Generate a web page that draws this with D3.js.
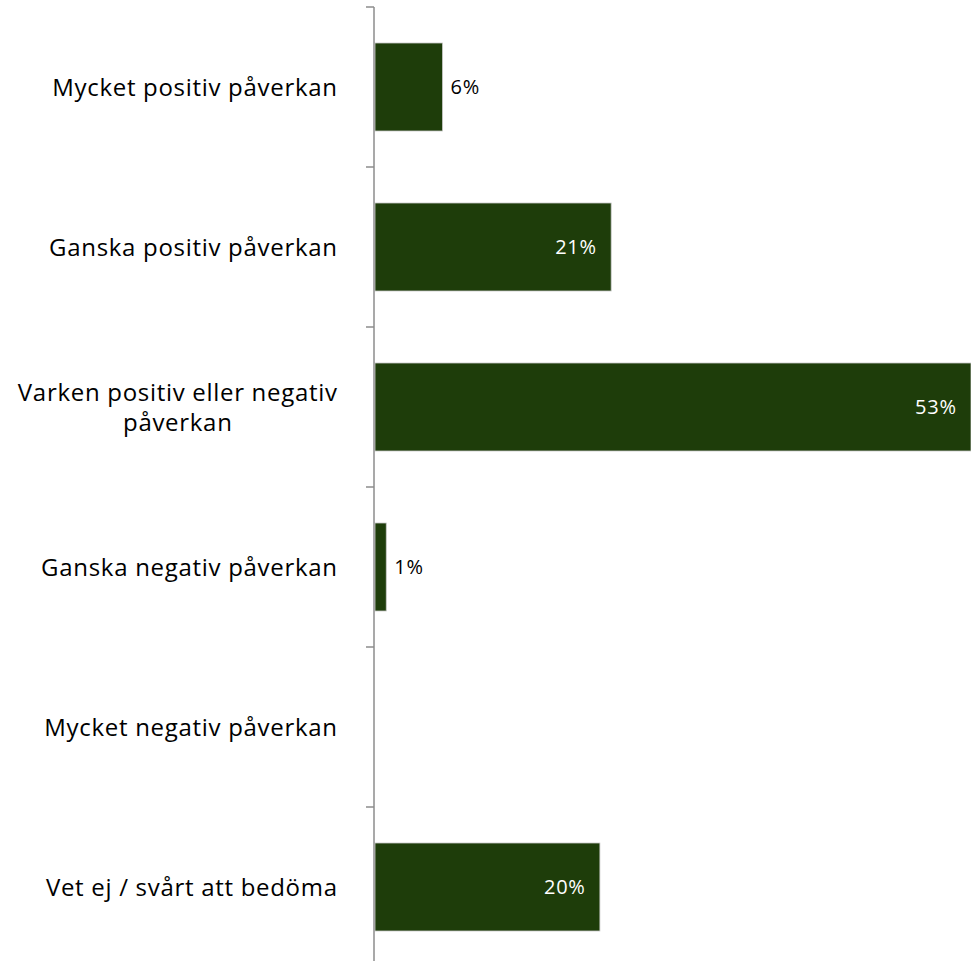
<!DOCTYPE html>
<html>
<head>
<meta charset="utf-8">
<script src="https://cdn.jsdelivr.net/npm/d3@7"></script>
<style>
  html, body { margin: 0; padding: 0; background: #fff; }
  svg { display: block; }
</style>
</head>
<body>
<svg id="chart" width="971" height="961"></svg>
<script>
// Survey answers and shares (%)
const categories = [
  "Mycket positiv påverkan",
  "Ganska positiv påverkan",
  "Varken positiv eller negativ påverkan",
  "Ganska negativ påverkan",
  "Mycket negativ påverkan",
  "Vet ej / svårt att bedöma"
];
const labelLines = [
  ["Mycket positiv påverkan"],
  ["Ganska positiv påverkan"],
  ["Varken positiv eller negativ", "påverkan"],
  ["Ganska negativ påverkan"],
  ["Mycket negativ påverkan"],
  ["Vet ej / svårt att bedöma"]
];
const values = [6, 21, 53, 1, null, 20];

const svg = d3.select("#chart");
const font = "'Open Sans', sans-serif";
const barColor = "#1e3d0a";

const x0 = 375;
const x = d3.scaleLinear().domain([0, 53]).range([x0, 971]);
const y = d3.scaleBand().domain(categories).range([7, 967]).paddingInner(0.45).paddingOuter(0.225);

const data = categories.map((c, i) => ({ c, v: values[i] })).filter(d => d.v != null);

// Bars
svg.append("g").selectAll("rect")
  .data(data)
  .join("rect")
  .attr("x", x(0))
  .attr("y", d => y(d.c))
  .attr("width", d => x(d.v) - x(0))
  .attr("height", y.bandwidth())
  .attr("fill", barColor)
  .attr("stroke", "#c8c8c8")
  .attr("stroke-width", 0.8);

// Value labels: inside (white) for wide bars, outside (dark) for narrow ones
const valueSpacing = 0.8;
svg.append("g").selectAll("text")
  .data(data)
  .join("text")
  .attr("x", d => d.v >= 10 ? x(d.v) - 15 + valueSpacing : x(d.v) + 8)
  .attr("y", d => y(d.c) + y.bandwidth() / 2)
  .attr("dy", "0.36em")
  .attr("text-anchor", d => d.v >= 10 ? "end" : "start")
  .attr("fill", d => d.v >= 10 ? "#ffffff" : "#000000")
  .style("font-family", font)
  .style("font-size", "20px")
  .style("letter-spacing", valueSpacing + "px")
  .text(d => d.v + "%");

// Category axis
const axisX = 374;
const ticks = d3.range(categories.length).map(i => y.step() * i + 7);
svg.append("line")
  .attr("x1", axisX).attr("x2", axisX)
  .attr("y1", 7).attr("y2", 967)
  .attr("stroke", "#8c8c8c").attr("stroke-width", 1.5);
svg.append("g").selectAll("line")
  .data(ticks)
  .join("line")
  .attr("x1", 366).attr("x2", axisX)
  .attr("y1", d => d).attr("y2", d => d)
  .attr("stroke", "#8c8c8c").attr("stroke-width", 1.5);

// Category labels (multi-line labels are centred within their own block, block right-aligned)
const labelSpacing = 0.7;
const lab = svg.append("g");
categories.forEach((c, i) => {
  const lines = labelLines[i];
  const cy = y(c) + y.bandwidth() / 2;
  const lh = 30;
  const g = lab.append("g");
  const texts = lines.map((t, j) => g.append("text")
    .attr("y", cy + (j - (lines.length - 1) / 2) * lh)
    .attr("dy", "0.36em")
    .attr("fill", "#000")
    .style("font-family", font)
    .style("font-size", "24px")
    .style("letter-spacing", labelSpacing + "px")
    .text(t));
  const widths = texts.map(t => t.node().getComputedTextLength());
  const maxW = d3.max(widths);
  const right = 337 + labelSpacing;
  texts.forEach(t => {
    t.attr("x", right - maxW / 2).attr("text-anchor", "middle");
  });
});
</script>
</body>
</html>
